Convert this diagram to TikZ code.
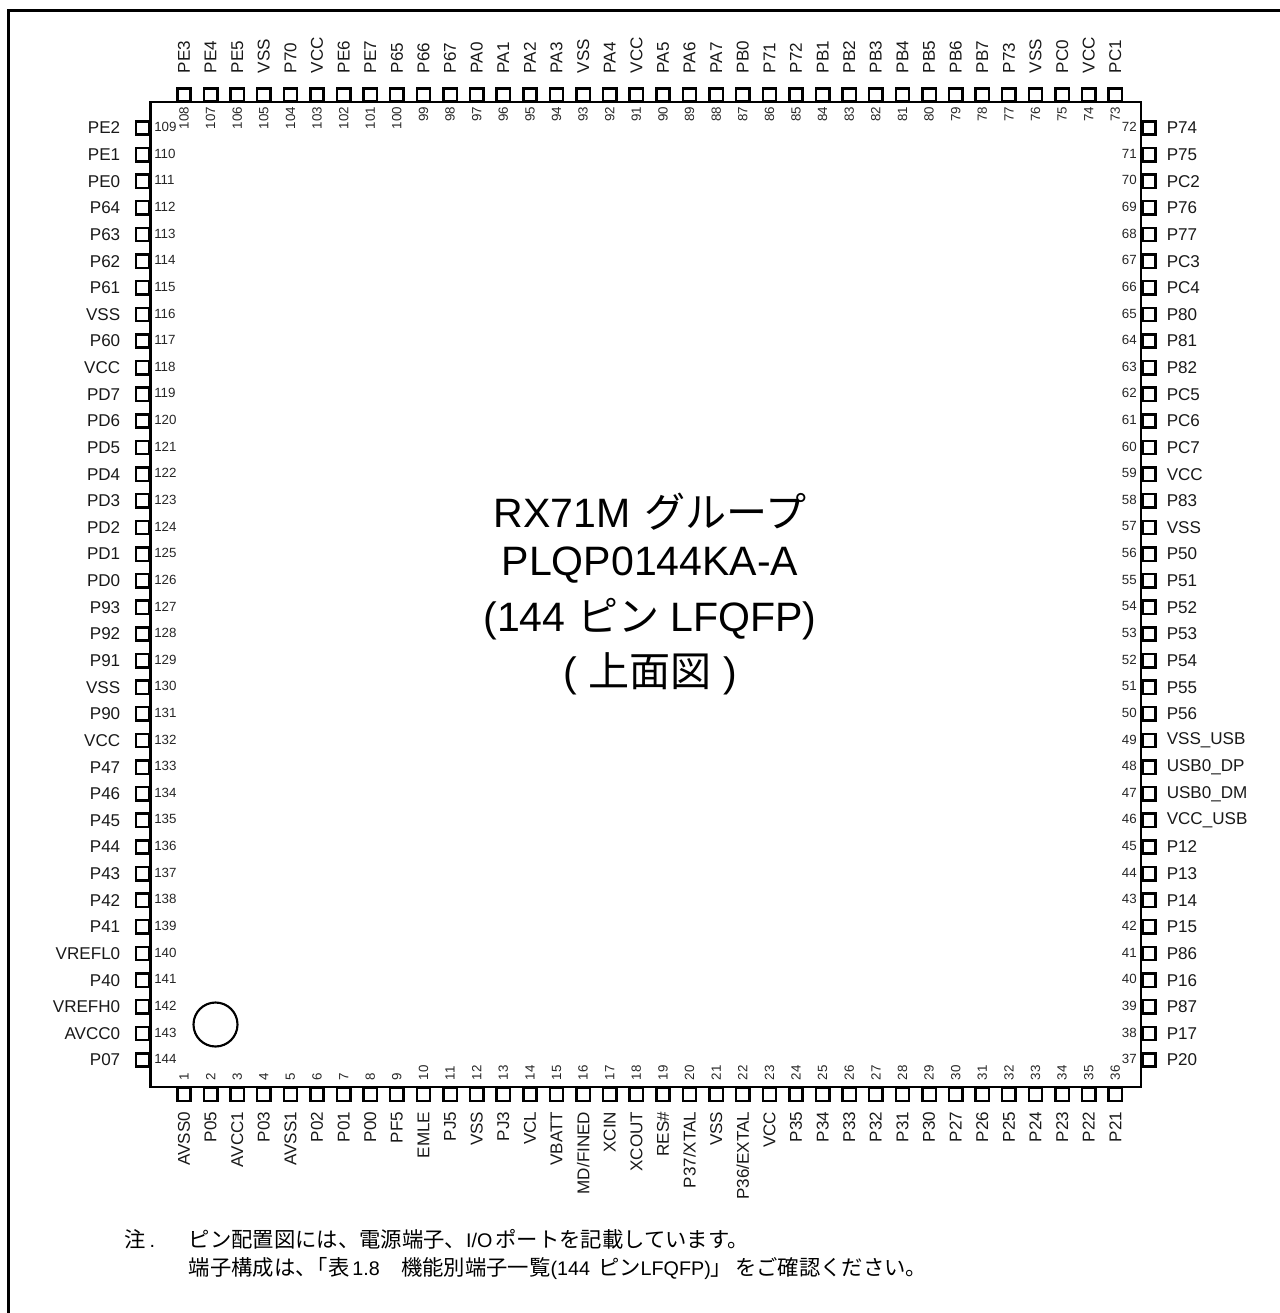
\documentclass[tikz,border=0pt]{standalone}
\usepackage{fontspec}
\setmainfont{Liberation Sans}
\newfontfamily\cjk{Noto Sans CJK JP}
\newcommand{\gp}[1]{\kern#1\dimexpr0.75pt\relax}
\newcommand{\nj}[1]{{\cjk\fontsize{16}{18}\selectfont #1}}
\tikzset{
  pinbox/.style={draw=black,line width=1.85pt,minimum size=10pt,inner sep=0pt,fill=white},
  pinlabel/.style={font=\fontsize{12.8}{15}\selectfont,inner sep=0pt,text=black!90},
  pinnum/.style={font=\fontsize{10}{12}\selectfont,inner sep=0pt,text=black!85},
  title/.style={font=\fontsize{30.8}{36}\selectfont,inner sep=0pt,anchor=base},
  note/.style={font=\fontsize{14.8}{18}\selectfont,inner sep=0pt,anchor=base west}
}
\begin{document}
\begin{tikzpicture}[x=0.75pt,y=-0.75pt]
\useasboundingbox (0,0) rectangle (1280,1313);
\draw[line width=2.25pt] (8.5,1313) -- (8.5,10.5) -- (1280,10.5);
% pins
\foreach \t [count=\i from 0, evaluate=\i as \n using {int(108-\i)}] in {PE3,PE4,PE5,VSS,P70,VCC,PE6,PE7,P65,P66,P67,PA0,PA1,PA2,PA3,VSS,PA4,VCC,PA5,PA6,PA7,PB0,P71,P72,PB1,PB2,PB3,PB4,PB5,PB6,PB7,P73,VSS,PC0,VCC,PC1}{
  \node[pinbox] (pin\n) at ({184+26.61*\i},95) {};
  \node[pinlabel,rotate=90,anchor=west] (lab\n) at ({184+26.61*\i},73.5) {\t};
  \node[pinnum,rotate=90,anchor=east] (num\n) at ({184+26.61*\i},106.5) {\n};
}
\foreach \t [count=\i from 0, evaluate=\i as \n using {int(109+\i)}] in {PE2,PE1,PE0,P64,P63,P62,P61,VSS,P60,VCC,PD7,PD6,PD5,PD4,PD3,PD2,PD1,PD0,P93,P92,P91,VSS,P90,VCC,P47,P46,P45,P44,P43,P42,P41,VREFL0,P40,VREFH0,AVCC0,P07}{
  \node[pinbox] (pin\n) at (142.7,{128+26.63*\i}) {};
  \node[pinlabel,anchor=east] (lab\n) at (120.5,{128+26.63*\i}) {\t};
  \node[pinnum,anchor=west] (num\n) at (154,{127+26.63*\i}) {\n};
}
\foreach \t [count=\i from 0, evaluate=\i as \n using {int(1+\i)}] in {AVSS0,P05,AVCC1,P03,AVSS1,P02,P01,P00,PF5,EMLE,PJ5,VSS,PJ3,VCL,VBATT,MD/FINED,XCIN,XCOUT,RES\#,P37/XTAL,VSS,P36/EXTAL,VCC,P35,P34,P33,P32,P31,P30,P27,P26,P25,P24,P23,P22,P21}{
  \node[pinbox] (pin\n) at ({184+26.61*\i},1094.5) {};
  \node[pinlabel,rotate=90,anchor=east] (lab\n) at ({184+26.61*\i},1111.5) {\t};
  \node[pinnum,rotate=90,anchor=west] (num\n) at ({184+26.61*\i},1080.5) {\n};
}
\foreach \t [count=\i from 0, evaluate=\i as \n using {int(72-\i)}] in {P74,P75,PC2,P76,P77,PC3,PC4,P80,P81,P82,PC5,PC6,PC7,VCC,P83,VSS,P50,P51,P52,P53,P54,P55,P56,VSS\_USB,USB0\_DP,USB0\_DM,VCC\_USB,P12,P13,P14,P15,P86,P16,P87,P17,P20}{
  \node[pinbox] (pin\n) at (1149,{128+26.63*\i}) {};
  \node[pinlabel,anchor=west] (lab\n) at (1166.5,{128+26.63*\i}) {\t};
  \node[pinnum,anchor=east] (num\n) at (1137,{127+26.63*\i}) {\n};
}
% body
\draw[line width=1.8pt] (150.5,102) rectangle (1141,1087);
\node[draw,circle,line width=1.6pt,minimum size=33pt,inner sep=0pt] (mark) at (215.5,1024.5) {};
% title
\node[title] (t1) at (650,527) {RX71M \gp{3}{\cjk グループ}};
\node[title] (t2) at (650,575) {PLQP0144KA-A};
\node[title] (t3) at (650,631) {(144 {\cjk ピン} LFQFP)};
\node[title] (t4) at (650,686) {( {\cjk 上面図} )};
% note
\node[note] (n0) at (124,1247.5) {\nj{注}\gp{4}.};
\node[note] (n1) at (188.5,1247.5) {\nj{ピン配置図には、電源端子、}I/O\gp{3}\nj{ポートを記載しています。}};
\node[note] (n2) at (188.5,1275.5) {\nj{端子構成は、}\gp{-10}\nj{「表}\gp{3}1.8\nj{　}\nj{機能別端子一覧}(144\gp{8}\nj{ピン}LFQFP)\nj{」}\gp{3}\nj{をご確認ください。}};
\end{tikzpicture}
\end{document}
